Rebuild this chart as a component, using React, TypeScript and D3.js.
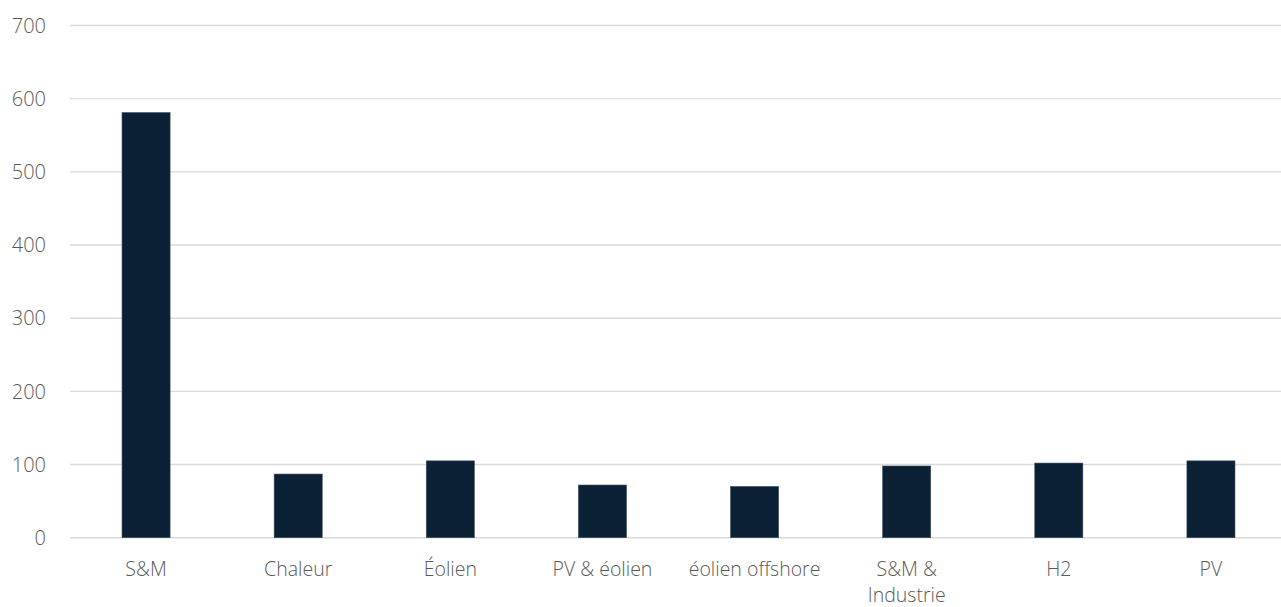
import React from "react";
import * as d3 from "d3";

const categories = ["S&M", "Chaleur", "Éolien", "PV & éolien", "éolien offshore", "S&M & Industrie", "H2", "PV"];
const categoryLabelLines = [["S&M"], ["Chaleur"], ["Éolien"], ["PV & éolien"], ["éolien offshore"], ["S&M &", "Industrie"], ["H2"], ["PV"]];
const values = [581, 87, 105, 72, 70, 98, 102, 105];
const yTicks = [0, 100, 200, 300, 400, 500, 600, 700];

const W = 1281;
const H = 607;
const left = 70;
const right = 1287;
const top = 25.5;
const bottom = 537.7;

export default function App() {
  const x = d3.scaleBand<string>().domain(categories).range([left, right]).paddingInner(0).paddingOuter(0);
  const y = d3.scaleLinear().domain([0, 700]).range([bottom, top]);
  const step = x.step();
  const barW = step * 0.316;
  const font = "'Open Sans', sans-serif";
  return (
    <svg width={W} height={H} style={{ position: "absolute", left: 0, top: 0, background: "#fff" }}>
      {yTicks.map((t) => (
        <g key={t}>
          <line x1={left} x2={W} y1={y(t)} y2={y(t)} stroke="#d9d9d9" strokeWidth={1.4} />
          <text x={46} y={y(t)} dy="0.36em" textAnchor="end" fontFamily={font} fontWeight={300} fontSize={20} fill="#595959">
            {t}
          </text>
        </g>
      ))}
      {categories.map((c, i) => {
        const cx = (x(c) as number) + step / 2;
        return (
          <g key={c}>
            <rect x={cx - barW / 2} y={y(values[i])} width={barW} height={y(0) - y(values[i])} fill="#0b2035" stroke="#3d4d5e" strokeWidth={0.6} />
            {categoryLabelLines[i].map((l, j) => (
              <text key={j} x={cx} y={576 + j * 26} textAnchor="middle" fontFamily={font} fontWeight={300} fontSize={19.5} fill="#595959">
                {l}
              </text>
            ))}
          </g>
        );
      })}
    </svg>
  );
}
